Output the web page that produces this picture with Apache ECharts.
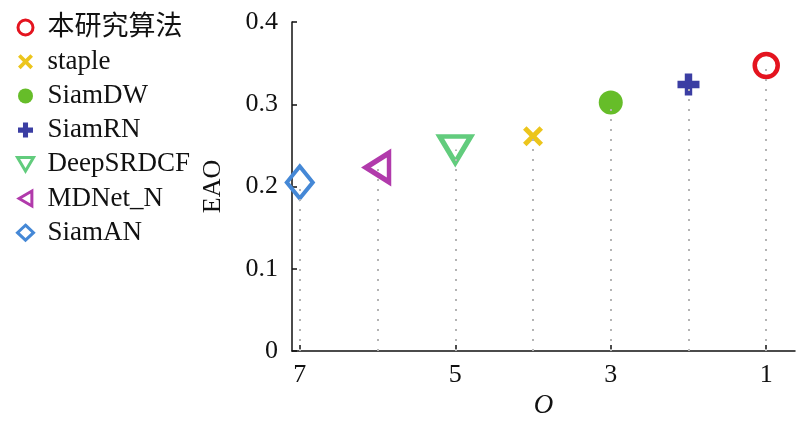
<!DOCTYPE html>
<html><head><meta charset="utf-8">
<script src="https://cdn.jsdelivr.net/npm/echarts@6/dist/echarts.min.js"></script>
<style>html,body{margin:0;padding:0;background:#fff}#c{width:800px;height:422px}</style>
</head><body><div id="c"></div>
<script>
const methods = ['本研究算法', 'staple', 'SiamDW', 'SiamRN', 'DeepSRDCF', 'MDNet_N', 'SiamAN'];
const ranks = [1, 4, 3, 2, 5, 6, 7];
const eao = [0.347, 0.261, 0.302, 0.324, 0.245, 0.223, 0.205];
const xTicks = [7, 5, 3, 1];
const yTicks = [0, 0.1, 0.2, 0.3, 0.4];

const colors = ['#e4141f', '#ecc51c', '#66bd29', '#3b3ea3', '#62cc7d', '#b13aab', '#4588d6'];
const PLUS = 'path://M2.65,0H5.35V2.65H8V5.35H5.35V8H2.65V5.35H0V2.65H2.65Z';
const CROSS = 'path://M1.4,0L4,2.6L6.6,0L8,1.4L5.4,4L8,6.6L6.6,8L4,5.4L1.4,8L0,6.6L2.6,4L0,1.4Z';
const TRI_DOWN = 'path://M0,0H10L5,8.5Z';
const TRI_LEFT = 'path://M8.5,0V10L0,5Z';
const styles = [
  {symbol: 'circle', size: 23, hollow: true, bw: 4.5, lbw: 3},
  {symbol: CROSS, size: 20, hollow: false},
  {symbol: 'circle', size: 24, hollow: false},
  {symbol: PLUS, size: 22, hollow: false},
  {symbol: TRI_DOWN, size: [31, 26], hollow: true, bw: 5, lbw: 3},
  {symbol: TRI_LEFT, size: [23, 29], hollow: true, bw: 5, lbw: 3},
  {symbol: 'diamond', size: [26, 32], hollow: true, bw: 4, lbw: 3}
];
const serif = "'Liberation Serif', 'Times New Roman', 'Noto Sans CJK SC', serif";

const series = methods.map((m, i) => {
  const s = styles[i];
  return {
    name: m,
    type: 'scatter',
    symbol: s.symbol,
    symbolSize: s.size,
    z: 3,
    itemStyle: s.hollow
      ? {color: 'rgba(0,0,0,0)', borderColor: colors[i], borderWidth: s.bw, opacity: 1}
      : {color: colors[i], opacity: 1},
    data: [[ranks[i], eao[i]]],
    markLine: {
      silent: true,
      animation: false,
      symbol: ['none', 'none'],
      label: {show: false},
      lineStyle: {color: '#b4b4b4', type: [2, 8], width: 2, opacity: 1},
      data: [[{coord: [ranks[i], 0]}, {coord: [ranks[i], eao[i]]}]]
    }
  };
});

const legendData = methods.map((m, i) => {
  const s = styles[i];
  const d = {name: m, icon: s.symbol, itemStyle: {opacity: 1}};
  if (s.hollow) d.itemStyle.borderWidth = s.lbw;
  return d;
});

const chart = echarts.init(document.getElementById('c'));
chart.setOption({
  animation: false,
  color: colors,
  grid: {left: 292, top: 22, right: 5, bottom: 71, containLabel: false, outerBoundsMode: 'none'},
  legend: {
    orient: 'vertical',
    left: 11, top: 9,
    itemWidth: 16, itemHeight: 15, itemGap: 7.2,
    data: legendData,
    textStyle: {fontFamily: serif, fontSize: 27, color: '#111', lineHeight: 27, padding: [0, 0, 0, 9]}
  },
  xAxis: {
    type: 'value',
    inverse: true,
    min: 0.63, max: 7.1,
    name: 'O',
    nameLocation: 'middle',
    nameGap: 40,
    nameTextStyle: {fontFamily: serif, fontSize: 27, fontStyle: 'italic', color: '#111'},
    axisLine: {show: true, onZero: false, lineStyle: {color: '#111', width: 1.5}},
    axisTick: {show: true, inside: true, length: 6, customValues: xTicks, lineStyle: {color: '#111', width: 1.5}},
    axisLabel: {customValues: xTicks, margin: 11, fontFamily: serif, fontSize: 26, color: '#111'},
    splitLine: {show: false}
  },
  yAxis: {
    type: 'value',
    min: 0, max: 0.4, interval: 0.1,
    name: 'EAO',
    nameLocation: 'middle',
    nameGap: 66,
    nameRotate: 90,
    nameTextStyle: {fontFamily: serif, fontSize: 26, color: '#111'},
    axisLine: {show: true, onZero: false, lineStyle: {color: '#111', width: 1.5}},
    axisTick: {show: true, inside: true, length: 5, lineStyle: {color: '#111', width: 1.5}},
    axisLabel: {margin: 14, fontFamily: serif, fontSize: 26, color: '#111'},
    splitLine: {show: false}
  },
  series: series
});
</script>
</body></html>
